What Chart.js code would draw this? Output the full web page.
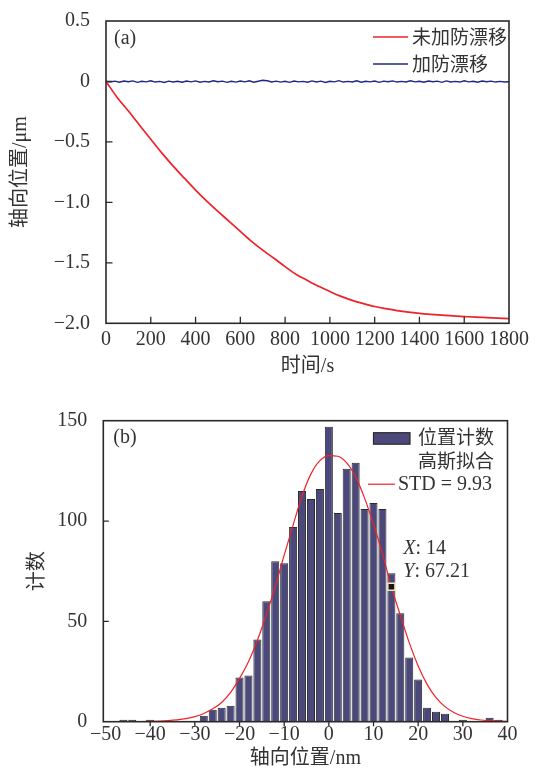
<!DOCTYPE html>
<html>
<head>
<meta charset="utf-8">
<script src="https://cdn.jsdelivr.net/npm/chart.js@4.4.1/dist/chart.umd.min.js"></script>
<style>
html, body { margin: 0; padding: 0; background: #fff; }
#page { position: relative; width: 536px; height: 771px; }
.box { position: absolute; left: 0; width: 536px; }
#boxA { top: 0; height: 390px; }
#boxB { top: 390px; height: 381px; }
</style>
</head>
<body>
<div id="page">
  <div class="box" id="boxA"><canvas id="driftChart"></canvas></div>
  <div class="box" id="boxB"><canvas id="histChart"></canvas></div>
</div>
<script>
// (a) axial position vs time
const redTime = [0, 50, 100, 150, 200, 250, 300, 350, 400, 450, 500, 550, 600, 650, 700, 750, 800, 850, 900,
  950, 1000, 1050, 1100, 1150, 1200, 1250, 1300, 1350, 1400, 1450, 1500, 1550, 1600, 1650, 1700, 1750, 1800];
const redValues = [0, -0.132, -0.245, -0.362, -0.478, -0.593, -0.700, -0.800, -0.898, -0.990, -1.075, -1.157,
  -1.240, -1.322, -1.395, -1.462, -1.531, -1.596, -1.646, -1.694, -1.737, -1.777, -1.810, -1.837, -1.861,
  -1.879, -1.895, -1.908, -1.918, -1.926, -1.933, -1.939, -1.944, -1.949, -1.953, -1.957, -1.961];

const blueTime = [0, 20, 40, 60, 80, 100, 120, 140, 160, 180, 200, 220, 240, 260, 280, 300, 320, 340, 360, 380,
  400, 420, 440, 460, 480, 500, 520, 540, 560, 580, 600, 620, 640, 660, 680, 700, 720, 740, 760, 780,
  800, 820, 840, 860, 880, 900, 920, 940, 960, 980, 1000, 1020, 1040, 1060, 1080, 1100, 1120, 1140, 1160, 1180,
  1200, 1220, 1240, 1260, 1280, 1300, 1320, 1340, 1360, 1380, 1400, 1420, 1440, 1460, 1480, 1500, 1520, 1540,
  1560, 1580, 1600, 1620, 1640, 1660, 1680, 1700, 1720, 1740, 1760, 1780, 1800];
const blueValues = [0.000, -0.004, 0.003, -0.006, 0.004, -0.002, 0.005, -0.007, 0.002, -0.003,
  0.006, -0.005, 0.001, -0.008, 0.003, -0.004, 0.002, -0.006, 0.004, -0.003,
  0.005, -0.006, 0.001, -0.004, 0.006, -0.002, 0.003, -0.007, 0.002, -0.005,
  0.004, -0.003, 0.006, -0.006, 0.002, 0.010, 0.006, -0.004, 0.003, -0.005,
  0.002, -0.007, 0.004, -0.003, 0.001, -0.006, 0.005, -0.004, 0.003, -0.008,
  0.002, -0.003, 0.007, -0.005, 0.001, -0.004, 0.006, -0.006, 0.002, -0.003,
  0.004, -0.007, 0.003, -0.002, 0.005, -0.005, 0.001, -0.004, 0.006, -0.003,
  0.002, -0.006, 0.004, -0.002, 0.003, -0.007, 0.005, -0.004, 0.001, -0.005,
  0.006, -0.003, 0.002, -0.006, 0.004, -0.002, 0.003, -0.005, 0.001, -0.004, -0.003];

const driftXTicks = [0, 200, 400, 600, 800, 1000, 1200, 1400, 1600, 1800];
const driftYTicks = [0.5, 0, -0.5, -1.0, -1.5, -2.0];
const driftNames = ['未加防漂移', '加防漂移'];

// (b) histogram of axial position
const binCenters = [-46, -44, -42, -40, -38, -36, -34, -32, -30, -28, -26, -24, -22, -20, -18, -16, -14, -12,
  -10, -8, -6, -4, -2, 0, 2, 4, 6, 8, 10, 12, 14, 16, 18, 20, 22, 24, 26, 28, 30, 32, 34, 36, 38];
const binCounts = [1, 1, 0, 1, 0, 0, 0, 0, 0, 3, 6, 7, 8, 22, 23, 41, 60, 80,
  79, 97, 115, 111, 116, 147, 104, 126, 129, 106, 109, 106, 74, 54, 32, 21, 7, 5, 4, 0, 1, 0, 0, 2, 1];

const gaussX = [-50, -48, -46, -44, -42, -40, -38, -36, -34, -32, -30, -28, -26, -24, -22, -20, -18, -16,
  -14, -12, -10, -8, -6, -4, -2, 0, 2, 4, 6, 8, 10, 12, 14, 16, 18, 20, 22, 24, 26, 28, 30, 32, 34, 36, 38, 40];
const gaussY = [0, 0.01, 0.02, 0.04, 0.09, 0.18, 0.31, 0.54, 0.9, 1.5, 2.5, 4.1, 6.4, 9.6, 14.6, 21.6, 29.9, 40.6,
  53.3, 67.4, 83, 98, 112.5, 123.5, 130.1, 132.6, 132.3, 129, 122, 111.4, 98.4, 83.8, 67.2, 53.1, 39.4, 27.8,
  18.6, 12, 7.5, 4.6, 2.7, 1.55, 0.85, 0.5, 0.25, 0.12];

const cursorPoint = [14, 67.21];
const histXTicks = [-50, -40, -30, -20, -10, 0, 10, 20, 30, 40];
const histYTicks = [0, 50, 100, 150];
const histNames = ['位置计数', '高斯拟合', 'STD = 9.93'];

const RED = '#ee2229';
const BLUE = '#1f2688';
const BAR = '#4b497b';
const INK = '#2a2a2a';
const SERIF = "'Liberation Serif', 'Noto Sans CJK SC', serif";
const CJK = "'Noto Sans CJK SC', 'Liberation Serif', sans-serif";

function minusFmt(v, dec) {
    if (v === 0) return '0';
    const s = Math.abs(v).toFixed(dec);
    return v < 0 ? '\u2212' + s : s;
}

// frame + tick marks (negative length = inward)
const frameTicks = {
    id: 'frameTicks',
    afterDraw(chart, args, opts) {
        const { ctx, chartArea: a, scales } = chart;
        ctx.save();
        ctx.strokeStyle = INK;
        ctx.lineWidth = 1.6;
        ctx.strokeRect(a.left, a.top, a.right - a.left, a.bottom - a.top);
        ctx.lineWidth = 1.3;
        ctx.beginPath();
        scales.x.ticks.forEach(t => {
            const px = scales.x.getPixelForValue(t.value);
            if (px < a.left + 3 || px > a.right - 3) return;
            ctx.moveTo(px, a.bottom);
            ctx.lineTo(px, a.bottom + opts.xLen);
        });
        scales.y.ticks.forEach(t => {
            const py = scales.y.getPixelForValue(t.value);
            if (py < a.top + 3 || py > a.bottom - 3) return;
            ctx.moveTo(a.left, py);
            ctx.lineTo(a.left + opts.yLen, py);
        });
        ctx.stroke();
        ctx.restore();
    }
};

const legendA = {
    id: 'legendA',
    afterDraw(chart) {
        const { ctx, chartArea: a } = chart;
        ctx.save();
        ctx.textBaseline = 'middle';
        ctx.fillStyle = '#333';
        ctx.font = '20px ' + SERIF;
        ctx.fillText('(a)', a.left + 8, a.top + 18);
        const rows = [[RED, a.top + 16], [BLUE, a.top + 43]];
        rows.forEach((r, i) => {
            ctx.strokeStyle = r[0];
            ctx.lineWidth = 1.5;
            ctx.beginPath();
            ctx.moveTo(a.right - 136, r[1]);
            ctx.lineTo(a.right - 101, r[1]);
            ctx.stroke();
            ctx.font = '19px ' + CJK;
            ctx.fillStyle = '#333';
            ctx.fillText(driftNames[i], a.right - 97, r[1]);
        });
        ctx.restore();
    }
};

const legendB = {
    id: 'legendB',
    afterDraw(chart) {
        const { ctx, chartArea: a } = chart;
        ctx.save();
        ctx.textBaseline = 'middle';
        ctx.fillStyle = '#333';
        ctx.font = '20px ' + SERIF;
        ctx.fillText('(b)', a.left + 10, a.top + 17);

        ctx.fillStyle = BAR;
        ctx.strokeStyle = INK;
        ctx.lineWidth = 1.2;
        ctx.fillRect(a.right - 134, a.top + 12, 36.5, 11.5);
        ctx.strokeRect(a.right - 134, a.top + 12, 36.5, 11.5);

        ctx.fillStyle = '#333';
        ctx.font = '19px ' + CJK;
        ctx.fillText(histNames[0], a.right - 89.5, a.top + 16);
        ctx.fillText(histNames[1], a.right - 89.5, a.top + 40);

        ctx.strokeStyle = RED;
        ctx.lineWidth = 1.2;
        ctx.beginPath();
        ctx.moveTo(a.right - 139.5, a.top + 63.5);
        ctx.lineTo(a.right - 112.5, a.top + 63.5);
        ctx.stroke();
        ctx.font = '20px ' + SERIF;
        ctx.fillText(histNames[2], a.right - 109.5, a.top + 64);

        // data cursor readout
        const lx = a.left + 300;
        [['X', ': ' + cursorPoint[0], a.top + 128], ['Y', ': ' + cursorPoint[1], a.top + 151]].forEach(r => {
            ctx.font = 'italic 20px ' + SERIF;
            ctx.fillText(r[0], lx, r[2]);
            const w = ctx.measureText(r[0]).width;
            ctx.font = '20px ' + SERIF;
            ctx.fillText(r[1], lx + w, r[2]);
        });
        ctx.restore();
    }
};

window.onload = function() {
    // Drift line chart
    const ctxA = document.getElementById('driftChart').getContext('2d');
    new Chart(ctxA, {
        type: 'line',
        data: {
            datasets: [{
                label: driftNames[0],
                data: redTime.map((t, i) => ({ x: t, y: redValues[i] })),
                borderColor: RED,
                borderWidth: 1.7,
                pointRadius: 0,
                cubicInterpolationMode: 'monotone'
            }, {
                label: driftNames[1],
                data: blueTime.map((t, i) => ({ x: t, y: blueValues[i] })),
                borderColor: BLUE,
                borderWidth: 1.4,
                pointRadius: 0,
                tension: 0
            }]
        },
        options: {
            responsive: true,
            maintainAspectRatio: false,
            animation: false,
            layout: { padding: { top: 21, right: 27, left: 0, bottom: 0 } },
            plugins: {
                legend: { display: false },
                tooltip: { enabled: false },
                frameTicks: { xLen: -6.5, yLen: 6.5 }
            },
            scales: {
                x: {
                    type: 'linear',
                    min: 0,
                    max: 1800,
                    afterBuildTicks: s => { s.ticks = driftXTicks.map(v => ({ value: v })); },
                    afterFit: s => { s.height = 66.7; },
                    grid: { display: false },
                    border: { display: false },
                    ticks: {
                        autoSkip: false, maxRotation: 0, padding: -4,
                        color: '#333', font: { family: SERIF, size: 20 },
                        callback: v => minusFmt(v, 0)
                    },
                    title: {
                        display: true, text: '时间/s', color: '#333',
                        font: { family: SERIF, size: 20 }, padding: { top: 0, bottom: 11 }
                    }
                },
                y: {
                    min: -2.0,
                    max: 0.5,
                    afterBuildTicks: s => { s.ticks = driftYTicks.map(v => ({ value: v })); },
                    afterFit: s => { s.width = 106; },
                    grid: { display: false },
                    border: { display: false },
                    ticks: {
                        padding: 8, color: '#333', font: { family: SERIF, size: 20 },
                        callback: v => minusFmt(v, 1)
                    },
                    title: {
                        display: true, text: '轴向位置/μm', color: '#333',
                        font: { family: SERIF, size: 20 }, padding: { top: 9, bottom: 0 }
                    }
                }
            }
        },
        plugins: [frameTicks, legendA]
    });

    // Histogram with Gaussian fit
    const ctxB = document.getElementById('histChart').getContext('2d');
    new Chart(ctxB, {
        type: 'bar',
        data: {
            datasets: [{
                type: 'line',
                label: 'cursor',
                data: [{ x: cursorPoint[0], y: cursorPoint[1] }],
                showLine: false,
                pointStyle: 'rect',
                pointRadius: 5,
                backgroundColor: '#151515',
                borderColor: '#efe6c4',
                borderWidth: 1.5,
                order: 1
            }, {
                type: 'line',
                label: histNames[1],
                data: gaussX.map((x, i) => ({ x: x, y: gaussY[i] })),
                borderColor: RED,
                borderWidth: 1.2,
                pointRadius: 0,
                cubicInterpolationMode: 'monotone',
                order: 2
            }, {
                label: histNames[0],
                data: binCenters.map((c, i) => ({ x: c, y: binCounts[i] })),
                backgroundColor: BAR,
                borderColor: INK,
                borderWidth: 1,
                borderSkipped: 'bottom',
                barPercentage: 0.9,
                categoryPercentage: 1.0,
                order: 3
            }]
        },
        options: {
            responsive: true,
            maintainAspectRatio: false,
            animation: false,
            layout: { padding: { top: 30.7, right: 28.5, left: 0, bottom: 0 } },
            plugins: {
                legend: { display: false },
                tooltip: { enabled: false },
                frameTicks: { xLen: 4.5, yLen: 5.5 }
            },
            scales: {
                x: {
                    type: 'linear',
                    offset: false,
                    min: -50.5,
                    max: 40,
                    afterBuildTicks: s => { s.ticks = histXTicks.map(v => ({ value: v })); },
                    afterFit: s => { s.height = 49.3; },
                    grid: { display: false, offset: false },
                    border: { display: false },
                    ticks: {
                        autoSkip: false, maxRotation: 0, padding: -7,
                        color: '#333', font: { family: SERIF, size: 20 },
                        callback: v => minusFmt(v, 0)
                    },
                    title: {
                        display: true, text: '轴向位置/nm', color: '#333',
                        font: { family: SERIF, size: 20 }, padding: { top: 0, bottom: 0 }
                    }
                },
                y: {
                    min: 0,
                    max: 150,
                    afterBuildTicks: s => { s.ticks = histYTicks.map(v => ({ value: v })); },
                    afterFit: s => { s.width = 103.3; },
                    grid: { display: false },
                    border: { display: false },
                    ticks: {
                        padding: 8, color: '#333', font: { family: SERIF, size: 20 },
                        callback: v => minusFmt(v, 0)
                    },
                    title: {
                        display: true, text: '计数', color: '#333',
                        font: { family: SERIF, size: 20 }, padding: { top: 26, bottom: 0 }
                    }
                }
            }
        },
        plugins: [frameTicks, legendB]
    });
};
</script>
</body>
</html>
